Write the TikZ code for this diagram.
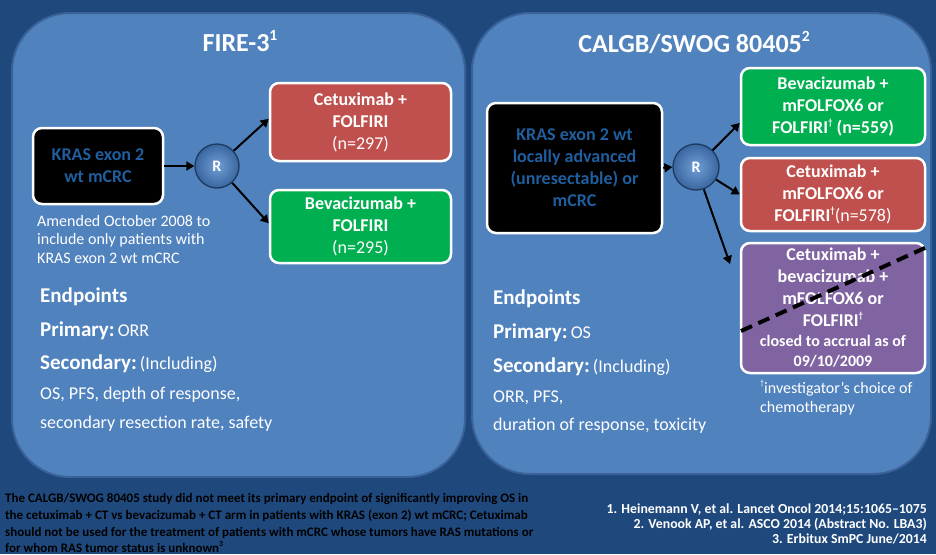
\documentclass[tikz,border=0pt]{standalone}
\usepackage{fontspec}
\setmainfont{Carlito}
\usetikzlibrary{arrows.meta}
\newcommand\myfs[2]{\fontsize{#1}{#2}\selectfont}
\newcommand\supr[1]{\raisebox{0.42em}{\scalebox{0.6}{#1}}}
\newcommand\mydag{\raisebox{0.45em}{\scalebox{0.5}{†}}}
\definecolor{bg}{RGB}{31,73,125}
\definecolor{panel}{RGB}{80,130,190}
\definecolor{panelborder}{RGB}{58,98,152}
\definecolor{redbox}{RGB}{192,80,77}
\definecolor{greenbox}{RGB}{0,176,80}
\definecolor{purplebox}{RGB}{128,100,162}
\definecolor{kras}{RGB}{31,95,160}
\definecolor{rin}{RGB}{112,158,214}
\definecolor{rout}{RGB}{58,102,160}
\definecolor{rrim}{RGB}{30,58,95}
\begin{document}
\begin{tikzpicture}[x=1pt,y=-1pt,
  arm/.style={draw=white, line width=2.5pt, rounded corners=9pt, align=center,
    text=white, font=\myfs{18}{22}\bfseries, inner sep=0pt},
  patient/.style={arm, fill=black, text=kras},
  rnode/.style={circle, minimum size=44pt, inner sep=0pt, inner color=rin,
    outer color=rout, draw=rrim, line width=1.3pt, text=white,
    font=\myfs{16}{16}\bfseries},
  arr/.style={-{Triangle[length=8pt,width=9pt]}, line width=2pt, black},
  txt/.style={anchor=base west, inner sep=0pt, text=white},
  title/.style={anchor=base, inner sep=0pt, text=white, font=\myfs{26}{26}\bfseries},
  foot/.style={anchor=base west, inner sep=0pt, text=black, font=\myfs{13}{15}\bfseries},
  ref/.style={anchor=base east, inner sep=0pt, text=white, font=\myfs{13.8}{15}\bfseries},
  panelbox/.style={draw=panelborder, line width=2pt, fill=panel, rounded corners=58pt}
]
\fill[bg] (0,0) rectangle (936,554);
\useasboundingbox (0,0) rectangle (936,554);

% panels
\draw[panelbox] (12,13) rectangle (465,477);
\draw[panelbox] (472,13) rectangle (931,474);

% titles
\node[title] (t1) at (240,51) {FIRE-3\supr{1}};
\node[title] (t2) at (694,52) {CALGB/SWOG 80405\supr{2}};

% ---------- FIRE-3 ----------
\node[patient, minimum width=130pt, minimum height=76pt] (k1) at (98,166) {KRAS exon 2\\wt mCRC};
\node[rnode] (r1) at (217,166) {R};
\node[arm, fill=redbox, minimum width=181pt, minimum height=78pt] (c1) at (360.5,122)
  {Cetuximab +\\FOLFIRI\\{\mdseries (n=297)}};
\node[arm, fill=greenbox, minimum width=181pt, minimum height=73pt] (g1) at (360.5,226.5)
  {Bevacizumab +\\FOLFIRI\\{\mdseries (n=295)}};
\draw[arr] (k1.east) -- (r1.west);
\draw[arr] (r1) -- (c1.178);
\draw[arr] (r1) -- (g1.178);

\node[txt, font=\myfs{16}{18}] (am1) at (37,226) {Amended October 2008 to};
\node[txt, font=\myfs{16}{18}] (am2) at (37,244) {include only patients with};
\node[txt, font=\myfs{16}{18}] (am3) at (37,263) {KRAS exon 2 wt mCRC};

\node[txt] (e1) at (40,302) {\myfs{21}{21}\bfseries Endpoints};
\node[txt] (e2) at (40,336) {{\myfs{21}{21}\bfseries Primary:} {\myfs{18}{18}ORR}};
\node[txt] (e3) at (40,369) {{\myfs{21}{21}\bfseries Secondary:} {\myfs{18}{18}(Including)}};
\node[txt] (e4) at (40,399) {\myfs{18}{18}OS, PFS, depth of response,};
\node[txt] (e5) at (40,428) {\myfs{18}{18}secondary resection rate, safety};

% ---------- CALGB ----------
\node[patient, minimum width=175pt, minimum height=130pt] (k2) at (574.5,168)
  {KRAS exon 2 wt\\locally advanced\\(unresectable) or\\mCRC};
\node[rnode, minimum size=46pt] (r2) at (696,167) {R};
\node[arm, fill=greenbox, minimum width=184pt, minimum height=77pt] (g2) at (833,106.5)
  {Bevacizumab +\\mFOLFOX6 or\\FOLFIRI\mydag\ (n=559)};
\node[arm, fill=redbox, minimum width=184pt, minimum height=73pt] (c2) at (833,194.5)
  {Cetuximab +\\mFOLFOX6 or\\FOLFIRI\mydag{\mdseries (n=578)}};
\node[arm, fill=purplebox, minimum width=184pt, minimum height=130pt] (p2) at (833,308)
  {Cetuximab +\\bevacizumab +\\mFOLFOX6 or\\FOLFIRI\mydag\\[-2pt]
   {\myfs{16}{19}closed to accrual as of}\\[-2pt]{\myfs{16}{19}09/10/2009}};
\coordinate (pend) at (730,264);
\draw[arr] (k2.east) -- (r2.west);
\draw[arr] (r2) -- (g2.190);
\draw[arr] (r2) -- (c2.west);
\draw[arr] (r2) -- (pend);
\draw[black, line width=4pt, dash pattern=on 12pt off 7pt] (741,331) -- (927,247);

\node[txt, font=\myfs{16}{18}] (inv1) at (760,393) {\mydag investigator’s choice of};
\node[txt, font=\myfs{16}{18}] (inv2) at (760,412) {chemotherapy};

\node[txt] (f1) at (493,304) {\myfs{21}{21}\bfseries Endpoints};
\node[txt] (f2) at (493,338) {{\myfs{21}{21}\bfseries Primary:} {\myfs{18}{18}OS}};
\node[txt] (f3) at (493,372) {{\myfs{21}{21}\bfseries Secondary:} {\myfs{18}{18}(Including)}};
\node[txt] (f4) at (493,402) {\myfs{18}{18}ORR, PFS,};
\node[txt] (f5) at (493,430) {\myfs{18}{18}duration of response, toxicity};

% ---------- footer ----------
\node[foot] (n1) at (5,502) {The CALGB/SWOG 80405 study did not meet its primary endpoint of significantly improving OS in};
\node[foot] (n2) at (5,519) {the cetuximab + CT vs bevacizumab + CT arm in patients with KRAS (exon 2) wt mCRC; Cetuximab};
\node[foot] (n3) at (5,536) {should not be used for the treatment of patients with mCRC whose tumors have RAS mutations or};
\node[foot] (n4) at (5,552) {for whom RAS tumor status is unknown\supr{3}};

\node[ref] (ref1) at (927,513) {1. Heinemann V, et al. Lancet Oncol 2014;15:1065–1075};
\node[ref] (ref2) at (927,528) {2. Venook AP, et al. ASCO 2014 (Abstract No. LBA3)};
\node[ref] (ref3) at (927,543) {3. Erbitux SmPC June/2014};
\end{tikzpicture}
\end{document}
